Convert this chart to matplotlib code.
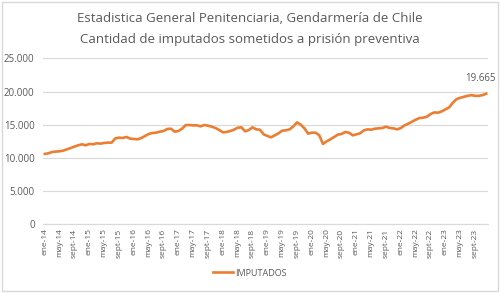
import matplotlib.pyplot as plt
from matplotlib.patches import Rectangle
from matplotlib.ticker import FuncFormatter
import numpy as np

# monthly values, ene-14 .. dic-23
y2014 = [10600, 10700, 10900, 10950, 11000, 11100, 11300, 11500, 11700, 11900, 12050, 11900]
y2015 = [12100, 12050, 12200, 12150, 12250, 12300, 12300, 12950, 13050, 13000, 13150, 12900]
y2016 = [12850, 12800, 13000, 13300, 13600, 13750, 13800, 13950, 14050, 14350, 14400, 13950]
y2017 = [14050, 14400, 14950, 14950, 14900, 14900, 14750, 14950, 14850, 14700, 14500, 14200]
y2018 = [13850, 13900, 14050, 14250, 14550, 14600, 14000, 14200, 14600, 14300, 14250, 13550]
y2019 = [13300, 13100, 13400, 13700, 14100, 14150, 14300, 14750, 15350, 15000, 14450, 13650]
y2020 = [13800, 13800, 13400, 12100, 12500, 12800, 13150, 13500, 13600, 13900, 13800, 13400]
y2021 = [13550, 13700, 14150, 14300, 14250, 14400, 14450, 14500, 14700, 14500, 14450, 14300]
y2022 = [14500, 14900, 15150, 15450, 15750, 16000, 16050, 16200, 16600, 16850, 16800, 17000]
y2023 = [17300, 17600, 18300, 18850, 19050, 19200, 19350, 19450, 19350, 19350, 19450, 19665]

imputados = y2014 + y2015 + y2016 + y2017 + y2018 + y2019 + y2020 + y2021 + y2022 + y2023

meses = ['ene', 'feb', 'mar', 'abr', 'may', 'jun', 'jul', 'ago', 'sept', 'oct', 'nov', 'dic']
years = list(range(14, 24))
labels = ['%s-%d' % (m, a) for a in years for m in meses]

gray = '#595959'
grid = '#d9d9d9'
orange = '#ED7D31'

plt.rcParams['font.family'] = ['Open Sans', 'DejaVu Sans']

fig = plt.figure(figsize=(5, 2.93), dpi=100)
ax = fig.add_axes([0.086, 0.2345, 0.89, 0.5665])

x = np.arange(len(imputados))
ax.plot(x, imputados, color=orange, lw=1.9, label='IMPUTADOS', solid_joinstyle='round')

ax.set_xlim(-0.5, len(imputados) - 0.5)
ax.set_ylim(0, 25000)
ax.set_yticks(range(0, 25001, 5000))
ax.yaxis.set_major_formatter(FuncFormatter(lambda v, p: '{:,.0f}'.format(v).replace(',', '.')))
ax.set_xticks(x[::4])
ax.set_xticklabels(labels[::4], rotation=90)
ax.tick_params(axis='y', length=0, labelsize=7, labelcolor=gray, pad=6)
ax.tick_params(axis='x', length=0, labelsize=6, labelcolor=gray, pad=3)
ax.grid(axis='y', color=grid, lw=0.8)
ax.set_axisbelow(True)
for s in ['top', 'right', 'left']:
    ax.spines[s].set_visible(False)
ax.spines['bottom'].set_color(grid)

last = len(imputados) - 1
ax.annotate('{:,.0f}'.format(imputados[last]).replace(',', '.'), (x[last], imputados[last]),
            xytext=(-4, 7), textcoords='offset points', ha='center', va='bottom',
            fontsize=7, color=gray, annotation_clip=False)

fig.text(0.5, 0.938, 'Estadistica General Penitenciaria, Gendarmería de Chile',
         ha='center', va='center', fontsize=9.5, color=gray)
fig.text(0.5, 0.866, 'Cantidad de imputados sometidos a prisión preventiva',
         ha='center', va='center', fontsize=9.5, color=gray)

fig.legend(loc='center', bbox_to_anchor=(0.5, 0.068), frameon=False, fontsize=6.5,
           labelcolor=gray, handlelength=2.2, handletextpad=0.3)

fig.patches.append(Rectangle((0.004, 0.006), 0.992, 0.988, transform=fig.transFigure,
                             fill=False, edgecolor=grid, lw=1))

fig.savefig('out.png', dpi=100)
